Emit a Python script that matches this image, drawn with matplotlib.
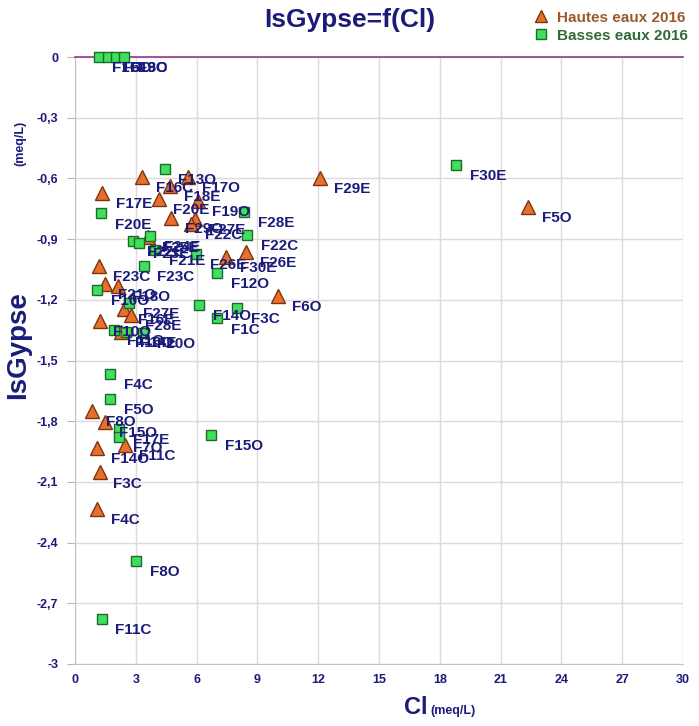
import matplotlib
matplotlib.use("Agg")
import matplotlib.pyplot as plt
from matplotlib.lines import Line2D

plt.rcParams['font.family'] = ['Liberation Sans', 'DejaVu Sans']

# Hautes eaux 2016 (triangles)
he_cl = [1.34, 3.31, 5.60, 4.70, 4.13, 6.06, 4.74, 5.94, 5.73, 3.62, 8.45, 7.46,
         12.07, 22.37, 10.04, 1.17, 1.46, 2.11, 2.44, 2.77, 1.21, 2.28,
         0.83, 1.50, 2.49, 1.08, 1.21, 1.08]
he_is = [-0.671, -0.592, -0.594, -0.638, -0.703, -0.710, -0.794, -0.802, -0.826, -0.890, -0.962, -0.990,
         -0.598, -0.741, -1.181, -1.033, -1.120, -1.130, -1.247, -1.273, -1.303, -1.358,
         -1.750, -1.803, -1.918, -1.934, -2.053, -2.234]
he_lab = ["F17E", "F16C", "F17O", "F18E", "F20E", "F19O", "F29O", "F27E", "F22C", "F25E", "F26E", "F30E",
          "F29E", "F5O", "F6O", "F23C", "F21O", "F18O", "F16E", "F28E", "F10O", "F16O",
          "F8O", "F15O", "F11C", "F14O", "F3C", "F4C"]

# Basses eaux 2016 (carres)
be_cl = [1.16, 1.62, 2.03, 2.44, 4.42, 1.29, 8.36, 8.48, 2.85, 3.18, 3.72, 3.97,
         5.96, 7.00, 3.38, 18.82, 1.08, 2.66, 6.14, 7.98, 7.00, 1.90, 2.52, 3.35,
         1.74, 1.74, 2.16, 2.16, 6.73, 3.02, 1.31]
be_is = [0.0, 0.0, 0.0, 0.0, -0.555, -0.773, -0.765, -0.880, -0.908, -0.918, -0.885, -0.955,
         -0.974, -1.069, -1.033, -0.534, -1.152, -1.216, -1.226, -1.242, -1.292, -1.350, -1.358, -1.362,
         -1.568, -1.691, -1.840, -1.877, -1.868, -2.490, -2.778]
be_lab = ["F1O", "F6O", "F13C", "F9O", "F13O", "F20E", "F28E", "F22C", "F22E", "F23E", "F24E", "F21E",
          "F26E", "F12O", "F23C", "F30E", "F10O", "F27E", "F14O", "F3C", "F1C", "F11O", "F14E", "F20O",
          "F4C", "F5O", "F17E", "F7O", "F15O", "F8O", "F11C"]

xticks = [0, 3, 6, 9, 12, 15, 18, 21, 24, 27, 30]
yticks = [0, -0.3, -0.6, -0.9, -1.2, -1.5, -1.8, -2.1, -2.4, -2.7, -3]
ytick_labels = ["0", "-0,3", "-0,6", "-0,9", "-1,2", "-1,5", "-1,8", "-2,1", "-2,4", "-2,7", "-3"]

navy = '#1b1b7a'
tri_fc, tri_ec = '#e8702a', '#7a3510'
sq_fc, sq_ec = '#3fe05c', '#1d6a2a'

fig = plt.figure(figsize=(6.99, 7.26), dpi=100)
ax = fig.add_axes([75/699, 1 - 664/726, (683 - 75)/699, (664 - 57)/726])

ax.set_xlim(0, 30)
ax.set_ylim(-3, 0)
ax.set_xticks(xticks)
ax.set_yticks(yticks)
ax.set_yticklabels(ytick_labels)
ax.grid(True, color='#e0d8dc', linewidth=1)
ax.set_axisbelow(True)

for s in ['left', 'bottom']:
    ax.spines[s].set_color('#c8c0c4')
ax.spines['right'].set_visible(False)
ax.spines['top'].set_color('#8e3a8e')
ax.spines['top'].set_linewidth(1.2)

ax.tick_params(axis='y', direction='out', length=6, color='#d8a8b0', labelsize=9,
               labelcolor=navy, pad=6)
ax.tick_params(axis='x', length=0, labelsize=9, labelcolor=navy, pad=7)
for t in ax.get_xticklabels() + ax.get_yticklabels():
    t.set_fontweight('bold')

ax.plot(he_cl, he_is, linestyle='none', marker='^', markersize=9.5,
        markerfacecolor=tri_fc, markeredgecolor=tri_ec, markeredgewidth=1, clip_on=False, zorder=3)
ax.plot(be_cl, be_is, linestyle='none', marker='s', markersize=7.5,
        markerfacecolor=sq_fc, markeredgecolor=sq_ec, markeredgewidth=1, clip_on=False, zorder=3)

for x, y, lab in zip(he_cl, he_is, he_lab):
    ax.annotate(lab, (x, y), xytext=(10, -8), textcoords='offset points', ha='left', va='center',
                fontsize=11, fontweight='bold', color=navy, annotation_clip=False, zorder=4)
for x, y, lab in zip(be_cl, be_is, be_lab):
    ax.annotate(lab, (x, y), xytext=(10, -8), textcoords='offset points', ha='left', va='center',
                fontsize=11, fontweight='bold', color=navy, annotation_clip=False, zorder=4)

fig.text(0.5, 1 - 20/726, "IsGypse=f(Cl)", ha='center', va='center', fontsize=19,
         fontweight='bold', color=navy)

fig.text(18/699, 1 - 345/726, "IsGypse", rotation=90, ha='center', va='center', fontsize=20,
         fontweight='bold', color=navy)
fig.text(20/699, 1 - 143/726, "(meq/L)", rotation=90, ha='center', va='center', fontsize=9,
         fontweight='bold', color=navy)
fig.text(416/699, 1 - 708/726, "Cl", ha='center', va='center', fontsize=17,
         fontweight='bold', color=navy)
fig.text(430/699, 1 - 711/726, "(meq/L)", ha='left', va='center', fontsize=9,
         fontweight='bold', color=navy)

handles = [Line2D([], [], linestyle='none', marker='^', markersize=9, markerfacecolor=tri_fc,
                  markeredgecolor=tri_ec),
           Line2D([], [], linestyle='none', marker='s', markersize=7, markerfacecolor=sq_fc,
                  markeredgecolor=sq_ec)]
leg = fig.legend(handles, ["Hautes eaux 2016", "Basses eaux 2016"], loc='upper right',
                 bbox_to_anchor=(1.0, 1.0), frameon=False, handlelength=1, handletextpad=0.6,
                 labelspacing=0.25, borderaxespad=0.3,
                 prop={'size': 11, 'weight': 'bold'}, labelcolor=['#9c5a2b', '#2f6b35'])

fig.savefig("out.png", dpi=100)
